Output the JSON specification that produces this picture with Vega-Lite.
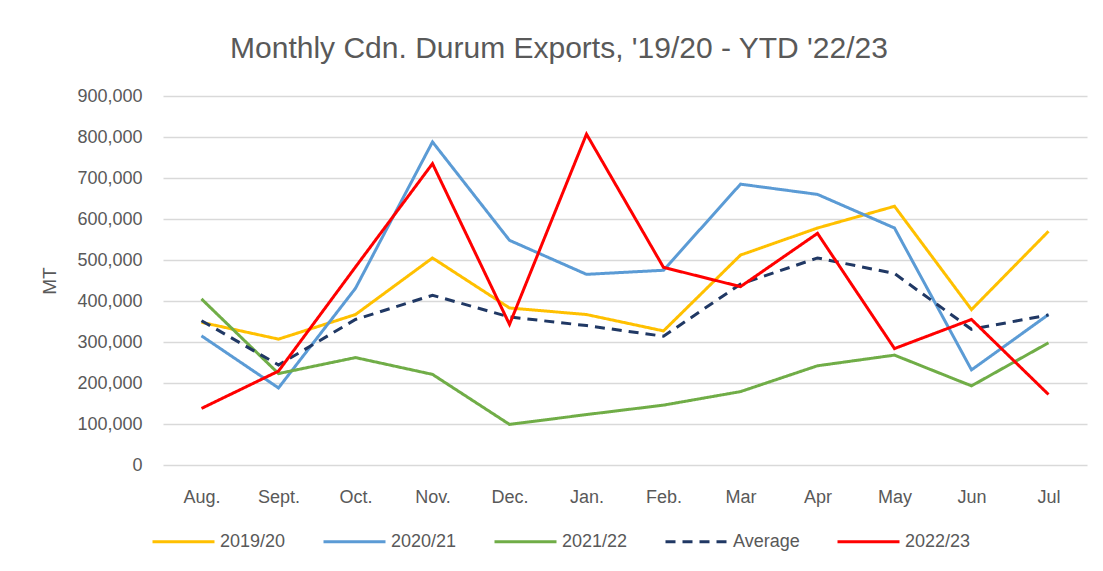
{
  "$schema": "https://vega.github.io/schema/vega-lite/v6.json",
  "width": 924,
  "height": 369,
  "autosize": {"type": "none"},
  "padding": {"left": 163, "top": 96, "right": 16, "bottom": 106},
  "background": "white",
  "config": {"view": {"stroke": null}, "font": "Liberation Sans"},
  "title": {
    "text": "Monthly Cdn. Durum Exports, '19/20 - YTD '22/23",
    "fontSize": 30,
    "font": "Liberation Sans",
    "fontWeight": "normal",
    "color": "#595959",
    "anchor": "middle",
    "dx": -66,
    "offset": 23
  },
  "data": {
    "values": [
      {"month": "Aug.", "series": "2019/20", "value": 348000},
      {"month": "Sept.", "series": "2019/20", "value": 307000},
      {"month": "Oct.", "series": "2019/20", "value": 367000},
      {"month": "Nov.", "series": "2019/20", "value": 505000},
      {"month": "Dec.", "series": "2019/20", "value": 383000},
      {"month": "Jan.", "series": "2019/20", "value": 367000},
      {"month": "Feb.", "series": "2019/20", "value": 327000},
      {"month": "Mar", "series": "2019/20", "value": 512000},
      {"month": "Apr", "series": "2019/20", "value": 578000},
      {"month": "May", "series": "2019/20", "value": 631000},
      {"month": "Jun", "series": "2019/20", "value": 379000},
      {"month": "Jul", "series": "2019/20", "value": 570000},
      {"month": "Aug.", "series": "2020/21", "value": 315000},
      {"month": "Sept.", "series": "2020/21", "value": 188000},
      {"month": "Oct.", "series": "2020/21", "value": 431000},
      {"month": "Nov.", "series": "2020/21", "value": 788000},
      {"month": "Dec.", "series": "2020/21", "value": 548000},
      {"month": "Jan.", "series": "2020/21", "value": 465000},
      {"month": "Feb.", "series": "2020/21", "value": 475000},
      {"month": "Mar", "series": "2020/21", "value": 685000},
      {"month": "Apr", "series": "2020/21", "value": 660000},
      {"month": "May", "series": "2020/21", "value": 578000},
      {"month": "Jun", "series": "2020/21", "value": 232000},
      {"month": "Jul", "series": "2020/21", "value": 367000},
      {"month": "Aug.", "series": "2021/22", "value": 405000},
      {"month": "Sept.", "series": "2021/22", "value": 223000},
      {"month": "Oct.", "series": "2021/22", "value": 262000},
      {"month": "Nov.", "series": "2021/22", "value": 221000},
      {"month": "Dec.", "series": "2021/22", "value": 99000},
      {"month": "Jan.", "series": "2021/22", "value": 123000},
      {"month": "Feb.", "series": "2021/22", "value": 146000},
      {"month": "Mar", "series": "2021/22", "value": 179000},
      {"month": "Apr", "series": "2021/22", "value": 242000},
      {"month": "May", "series": "2021/22", "value": 268000},
      {"month": "Jun", "series": "2021/22", "value": 193000},
      {"month": "Jul", "series": "2021/22", "value": 298000},
      {"month": "Aug.", "series": "Average", "value": 352000},
      {"month": "Sept.", "series": "Average", "value": 244000},
      {"month": "Oct.", "series": "Average", "value": 355000},
      {"month": "Nov.", "series": "Average", "value": 414000},
      {"month": "Dec.", "series": "Average", "value": 361000},
      {"month": "Jan.", "series": "Average", "value": 340000},
      {"month": "Feb.", "series": "Average", "value": 314000},
      {"month": "Mar", "series": "Average", "value": 441000},
      {"month": "Apr", "series": "Average", "value": 505000},
      {"month": "May", "series": "Average", "value": 467000},
      {"month": "Jun", "series": "Average", "value": 331000},
      {"month": "Jul", "series": "Average", "value": 366000},
      {"month": "Aug.", "series": "2022/23", "value": 138000},
      {"month": "Sept.", "series": "2022/23", "value": 229000},
      {"month": "Oct.", "series": "2022/23", "value": 483000},
      {"month": "Nov.", "series": "2022/23", "value": 735000},
      {"month": "Dec.", "series": "2022/23", "value": 343000},
      {"month": "Jan.", "series": "2022/23", "value": 807000},
      {"month": "Feb.", "series": "2022/23", "value": 482000},
      {"month": "Mar", "series": "2022/23", "value": 435000},
      {"month": "Apr", "series": "2022/23", "value": 565000},
      {"month": "May", "series": "2022/23", "value": 284000},
      {"month": "Jun", "series": "2022/23", "value": 355000},
      {"month": "Jul", "series": "2022/23", "value": 172000}
    ]
  },
  "mark": {"type": "line", "strokeWidth": 3, "strokeJoin": "miter"},
  "encoding": {
    "x": {
      "field": "month",
      "type": "ordinal",
      "sort": ["Aug.", "Sept.", "Oct.", "Nov.", "Dec.", "Jan.", "Feb.", "Mar", "Apr", "May", "Jun", "Jul"],
      "scale": {"type": "point", "padding": 0.5},
      "axis": {
        "title": null,
        "labelAngle": 0,
        "labelFontSize": 18,
        "labelColor": "#595959",
        "labelPadding": 23,
        "domain": false,
        "ticks": false,
        "grid": false
      }
    },
    "y": {
      "field": "value",
      "type": "quantitative",
      "scale": {"domain": [0, 900000], "nice": false},
      "axis": {
        "title": "MT",
        "titleFontSize": 19,
        "titleFontWeight": "normal",
        "titleColor": "#595959",
        "titlePadding": 17,
        "values": [0, 100000, 200000, 300000, 400000, 500000, 600000, 700000, 800000, 900000],
        "format": ",.0f",
        "labelFontSize": 18,
        "labelColor": "#595959",
        "labelPadding": 21,
        "domain": false,
        "ticks": false,
        "grid": true,
        "gridColor": "#D9D9D9",
        "gridWidth": 1.5
      }
    },
    "color": {
      "field": "series",
      "type": "nominal",
      "scale": {
        "domain": ["2019/20", "2020/21", "2021/22", "Average", "2022/23"],
        "range": ["#FFC000", "#5B9BD5", "#70AD47", "#203864", "#FF0000"]
      },
      "legend": {
        "title": null,
        "orient": "none",
        "legendX": -12,
        "legendY": 413,
        "direction": "horizontal",
        "symbolType": "stroke",
        "symbolSize": 3844,
        "symbolStrokeWidth": 3,
        "labelFontSize": 18,
        "labelColor": "#595959",
        "labelOffset": 4,
        "columnPadding": 31,
        "padding": 0
      }
    },
    "strokeDash": {
      "field": "series",
      "type": "nominal",
      "scale": {
        "domain": ["2019/20", "2020/21", "2021/22", "Average", "2022/23"],
        "range": [[1, 0], [1, 0], [1, 0], [10, 7], [1, 0]]
      },
      "legend": {
        "title": null,
        "orient": "none",
        "legendX": -12,
        "legendY": 413,
        "direction": "horizontal",
        "symbolType": "stroke",
        "symbolSize": 3844,
        "symbolStrokeWidth": 3,
        "labelFontSize": 18,
        "labelColor": "#595959",
        "labelOffset": 4,
        "columnPadding": 31,
        "padding": 0
      }
    }
  }
}
